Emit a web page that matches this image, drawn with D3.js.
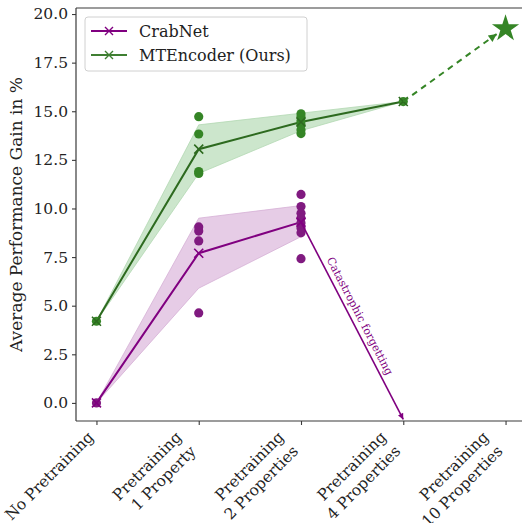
<!DOCTYPE html>
<html><head><meta charset="utf-8">
<script src="https://cdn.jsdelivr.net/npm/d3@7"></script>
<style>body{margin:0;background:#fff}svg{display:block}text{font-family:"DejaVu Serif",serif}</style>
</head><body>
<svg id="c" width="522" height="523"></svg>
<script>
const categories = ["No Pretraining", "Pretraining\n1 Property", "Pretraining\n2 Properties", "Pretraining\n4 Properties", "Pretraining\n10 Properties"];
const yTicks = [0, 2.5, 5, 7.5, 10, 12.5, 15, 17.5, 20];

const crabMean = [0, 7.7, 9.3];
const crabLow = [0, 5.9, 8.55];
const crabHigh = [0, 9.5, 10.15];
const crabPoints = [[0], [9.05, 8.84, 8.33, 4.63], [10.72, 10.1, 9.75, 9.5, 9.25, 9.0, 8.75, 7.42]];
const crabForget = [9.3, -0.85]; // from idx 2 to idx 3

const mtMean = [4.2, 13.05, 14.45, 15.5];
const mtLow = [4.2, 11.8, 14.0, 15.5];
const mtHigh = [4.2, 14.3, 14.9, 15.5];
const mtPoints = [[4.2], [14.72, 13.83, 11.9, 11.8], [14.87, 14.7, 14.5, 14.3, 14.05, 13.85], [15.5]];
const mtProjected = [15.5, 19.3]; // from idx 3 to idx 4

const purple = "#800080", purpleDot = "#801a80", purpleBand = "#e6cce6";
const greenLine = "#2d6a1f", greenDot = "#358526", greenBand = "#cce6cc";

const svg = d3.select("#c");
const L = 76, R = 526, T = 8, B = 421;
const x = d3.scaleLinear().domain([-0.2, 4.2]).range([L, R]);
const y = d3.scaleLinear().domain([-0.93, 20.31]).range([B, T]);

const defs = svg.append("defs");
function arrowHead(id, color, w, h) {
  defs.append("marker").attr("id", id).attr("viewBox", "0 0 10 10").attr("refX", 10).attr("refY", 5)
    .attr("markerWidth", w).attr("markerHeight", h).attr("markerUnits", "userSpaceOnUse").attr("orient", "auto")
    .append("path").attr("d", "M0,0 L10,5 L0,10 Z").attr("fill", color);
}
arrowHead("ap", purple, 8, 6);
arrowHead("ag", greenDot, 10, 8);

// bands
const area = d3.area().x((d, i) => x(i)).y0(d => y(d[0])).y1(d => y(d[1]));
svg.append("path").datum(crabLow.map((v, i) => [v, crabHigh[i]])).attr("d", area).attr("fill", purpleBand).attr("stroke", "#d6b0d6").attr("stroke-width", 0.8);
svg.append("path").datum(mtLow.map((v, i) => [v, mtHigh[i]])).attr("d", area).attr("fill", greenBand).attr("stroke", "#b2d8b2").attr("stroke-width", 0.8);

// mean lines
const line = d3.line().x((d, i) => x(i)).y(d => y(d));
svg.append("path").datum(crabMean).attr("d", line).attr("fill", "none").attr("stroke", purple).attr("stroke-width", 2);
svg.append("path").datum(mtMean).attr("d", line).attr("fill", "none").attr("stroke", greenLine).attr("stroke-width", 2);

// points
function dots(pts, color) {
  pts.forEach((arr, i) => {
    svg.append("g").selectAll("circle").data(arr).join("circle")
      .attr("cx", x(i)).attr("cy", d => y(d)).attr("r", 4.6).attr("fill", color);
  });
}
dots(crabPoints, purpleDot);
dots(mtPoints, greenDot);

// x markers
function xMarks(vals, color) {
  vals.forEach((v, i) => {
    const cx = x(i), cy = y(v), s = 4.5;
    svg.append("path").attr("d", `M${cx - s},${cy - s}L${cx + s},${cy + s}M${cx - s},${cy + s}L${cx + s},${cy - s}`)
      .attr("stroke", color).attr("stroke-width", 1.6);
  });
}
xMarks(crabMean, purple);
xMarks(mtMean, greenLine);

// catastrophic forgetting arrow
svg.append("line").attr("x1", x(2)).attr("y1", y(crabForget[0])).attr("x2", x(3)).attr("y2", y(crabForget[1]))
  .attr("stroke", purple).attr("stroke-width", 1.6).attr("marker-end", "url(#ap)");
{
  const x1 = x(2), y1 = y(crabForget[0]), x2 = x(3), y2 = y(crabForget[1]);
  const ang = Math.atan2(y2 - y1, x2 - x1) * 180 / Math.PI;
  svg.append("text").attr("transform", `translate(360,316) rotate(${ang})`)
    .attr("text-anchor", "middle").attr("dy", "0.35em").attr("font-size", 11).attr("fill", purple)
    .text("Catastrophic forgetting");
}

// projection dashed arrow + star
{
  const sx = x(4), sy = y(mtProjected[1]);
  const x1 = x(3), y1 = y(mtProjected[0]);
  const dx = sx - x1, dy = sy - y1, len = Math.hypot(dx, dy);
  const ex = sx - dx / len * 11, ey = sy - dy / len * 11;
  svg.append("line").attr("x1", x1).attr("y1", y1).attr("x2", ex).attr("y2", ey)
    .attr("stroke", greenDot).attr("stroke-width", 2).attr("stroke-dasharray", "6,5").attr("marker-end", "url(#ag)");
  svg.append("path").attr("d", d3.symbol(d3.symbolStar, 230)()).attr("transform", `translate(${sx},${sy + 1})`).attr("fill", greenDot);
}

// axes / spines
const spine = "#3a3a3a";
svg.append("line").attr("x1", L).attr("x2", L).attr("y1", T).attr("y2", B).attr("stroke", spine).attr("stroke-width", 1.2);
svg.append("line").attr("x1", L).attr("x2", R).attr("y1", T).attr("y2", T).attr("stroke", spine).attr("stroke-width", 1.2);
svg.append("line").attr("x1", L).attr("x2", R).attr("y1", B).attr("y2", B).attr("stroke", spine).attr("stroke-width", 1.2);

const yAxis = svg.append("g").attr("transform", `translate(${L},0)`)
  .call(d3.axisLeft(y).tickValues(yTicks).tickFormat(d3.format(".1f")).tickSize(4).tickPadding(4));
yAxis.select(".domain").remove();
yAxis.selectAll("line").attr("stroke", spine).attr("stroke-width", 1.1);
yAxis.selectAll("text").attr("font-family", "DejaVu Serif").attr("font-size", 15.5).attr("fill", "#222");

const xAxis = svg.append("g").attr("transform", `translate(0,${B})`)
  .call(d3.axisBottom(x).tickValues(d3.range(categories.length)).tickFormat("").tickSize(4));
xAxis.select(".domain").remove();
xAxis.selectAll("line").attr("stroke", spine).attr("stroke-width", 1.1);

// rotated x labels
categories.forEach((c, i) => {
  const g = svg.append("g");
  const t = g.append("text").attr("transform", "rotate(-45)").attr("text-anchor", "end")
    .attr("font-size", 15.5).attr("fill", "#222");
  c.split("\n").forEach((ln, k) => t.append("tspan").attr("x", 0).attr("dy", k === 0 ? 0 : "1.3em").text(ln));
  const bb = g.node().getBoundingClientRect();
  const sb = svg.node().getBoundingClientRect();
  const right = bb.right - sb.left, top = bb.top - sb.top;
  g.attr("transform", `translate(${x(i) + 1 - right},${B + 7 - top})`);
});

// y label
svg.append("text").attr("transform", `translate(22,${(T + B) / 2}) rotate(-90)`).attr("text-anchor", "middle")
  .attr("font-size", 17).attr("fill", "#222").text("Average Performance Gain in %");

// legend
const lg = svg.append("g");
lg.append("rect").attr("x", 85).attr("y", 17).attr("width", 222).attr("height", 54).attr("rx", 3)
  .attr("fill", "#fff").attr("fill-opacity", 0.8).attr("stroke", "#d0d0d0").attr("stroke-width", 1);
[["CrabNet", purple, 31], ["MTEncoder (Ours)", "#3f7f32", 55]].forEach(([name, col, ly]) => {
  lg.append("line").attr("x1", 91).attr("x2", 127).attr("y1", ly).attr("y2", ly).attr("stroke", col).attr("stroke-width", 2);
  const s = 4;
  lg.append("path").attr("d", `M${109 - s},${ly - s}L${109 + s},${ly + s}M${109 - s},${ly + s}L${109 + s},${ly - s}`).attr("stroke", col).attr("stroke-width", 1.4);
  lg.append("text").attr("x", 139).attr("y", ly).attr("dy", "0.35em").attr("font-size", 16).attr("fill", "#222").text(name);
});
</script>
</body></html>
